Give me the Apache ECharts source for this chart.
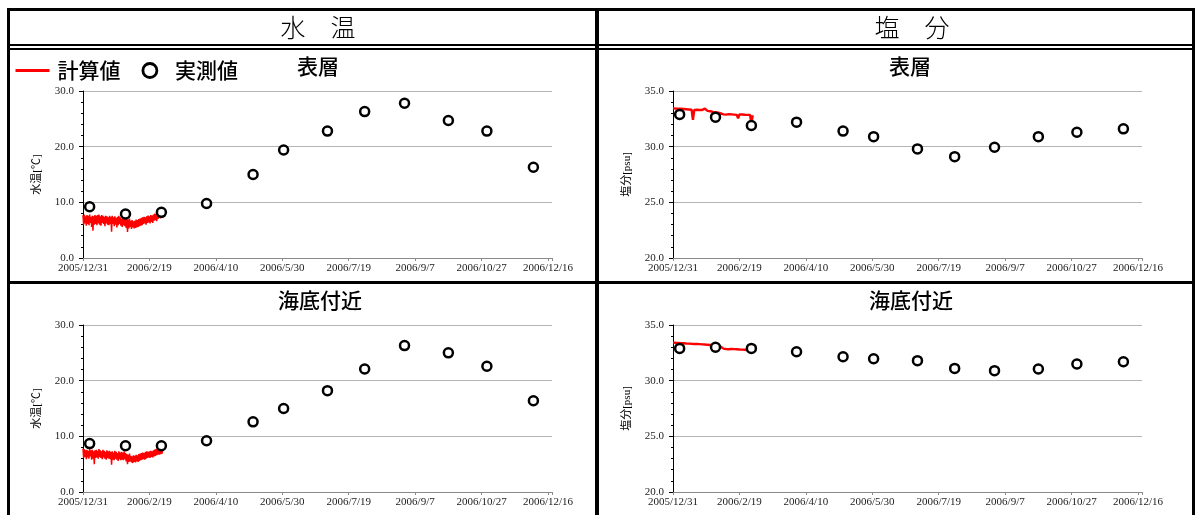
<!DOCTYPE html>
<html><head><meta charset="utf-8">
<script src="https://cdn.jsdelivr.net/npm/echarts@6/dist/echarts.min.js"></script>
<style>html,body{margin:0;padding:0;background:#fff}#c{width:1195px;height:515px}</style>
</head><body><div id="c"></div>
<script>
// ---------------- data ----------------
const axisStartDate = '2005/12/31';
const xTickLabels = ['2005/12/31','2006/2/19','2006/4/10','2006/5/30','2006/7/19','2006/9/7','2006/10/27','2006/12/16'];
const tempTickLabels = ['0.0','10.0','20.0','30.0'];
const salTickLabels = ['20.0','25.0','30.0','35.0'];

const obsDates = ['2006/1/5','2006/2/1','2006/2/28','2006/4/3','2006/5/8','2006/5/31','2006/7/3','2006/7/31','2006/8/30','2006/10/2','2006/10/31','2006/12/5'];
const obsTempSurface = [9.2,7.9,8.2,9.8,15.0,19.4,22.8,26.3,27.8,24.7,22.8,16.3];
const obsTempBottom  = [8.7,8.3,8.3,9.2,12.6,15.0,18.2,22.1,26.3,25.0,22.6,16.4];
const obsSalSurface  = [32.9,32.65,31.9,32.2,31.4,30.9,29.8,29.1,29.95,30.9,31.3,31.6];
const obsSalBottom   = [32.9,33.0,32.9,32.6,32.15,31.97,31.8,31.1,30.9,31.05,31.5,31.7];

const calcStartDate = '2005/12/31';
const calcTempStepHours = 12;
const calcSalStepHours = 24;
const calcTempSurface = [
7.7,6.0,7.8,6.2,7.5,5.8,7.7,6.1,7.6,5.9,7.8,6.3,7.4,5.6,7.6,4.9,7.5,6.0,7.7,6.1,
7.6,5.9,7.7,6.2,7.8,6.0,7.5,5.8,7.7,6.3,7.6,6.1,7.4,5.7,7.6,6.2,7.5,6.0,7.3,5.9,
7.6,6.1,7.4,4.7,7.6,6.1,7.3,5.7,7.5,6.0,7.2,5.5,7.4,5.9,7.6,6.1,7.3,5.8,7.1,5.6,
7.3,5.9,7.5,5.7,7.2,5.4,7.0,4.7,6.9,5.3,7.1,5.6,6.7,5.2,6.8,5.5,6.6,5.3,6.7,5.4,
6.9,5.5,6.8,5.6,7.0,5.7,7.1,5.8,7.2,5.9,7.3,6.1,7.4,6.2,7.3,6.0,7.5,6.3,7.6,6.4,
7.5,6.2,7.7,6.5,7.6,6.3,7.8,6.7,8.0,6.8,7.9,6.6,8.3,7.0,8.5,7.2,8.2,7.1,8.4,7.3,8.1
];
const calcTempBottom = [
7.8,6.1,7.7,6.3,7.5,5.9,7.6,6.2,7.4,6.0,7.7,6.4,7.5,5.8,7.6,6.0,7.3,5.0,7.5,6.1,
7.6,6.2,7.4,6.0,7.7,6.3,7.5,6.1,7.3,5.9,7.6,6.2,7.4,6.0,7.2,5.8,7.5,6.1,7.3,6.0,
7.4,5.9,7.2,4.9,7.3,5.8,7.1,5.7,7.4,6.0,7.2,5.8,7.0,5.6,7.3,5.9,7.1,5.7,7.2,5.8,
7.1,5.7,7.3,5.9,7.0,5.5,6.8,5.0,6.7,5.4,6.9,5.5,6.5,5.3,6.4,5.2,6.6,5.4,6.5,5.3,
6.7,5.5,6.6,5.4,6.8,5.6,6.9,5.7,7.0,5.8,7.1,5.9,7.0,5.8,7.2,6.0,7.3,6.1,7.2,6.2,
7.3,6.1,7.4,6.3,7.3,6.2,7.5,6.4,7.6,6.5,7.7,6.6,7.8,6.7,7.7,6.7,7.9,6.8,7.8,6.9,7.7
];
const calcSalSurface = [
33.45,33.40,33.42,33.38,33.41,33.36,33.40,33.35,33.38,33.33,33.36,33.30,33.34,33.28,33.32,32.40,33.30,33.27,33.31,33.25,
33.29,33.26,33.30,33.35,33.42,33.28,33.22,33.25,33.18,33.20,33.12,33.16,33.10,33.14,33.05,33.08,32.98,33.02,32.90,32.96,
32.88,32.95,32.92,32.98,32.90,32.94,32.88,32.92,32.86,32.55,32.90,32.85,32.89,32.83,32.87,32.82,32.86,32.80,32.84,32.10,32.82
];
const calcSalBottom = [
33.42,33.38,33.40,33.36,33.39,33.35,33.37,33.33,33.36,33.32,33.34,33.30,33.33,33.28,33.31,33.27,33.30,33.26,33.29,33.24,
33.28,33.22,33.26,33.20,33.25,33.18,33.22,33.15,33.20,33.12,33.16,33.08,33.12,33.04,33.08,33.00,33.05,32.95,32.88,32.92,
32.84,32.90,32.82,32.88,32.85,32.90,32.83,32.88,32.82,32.87,32.80,32.86,32.79,32.85,32.78,32.84,32.76,32.82,32.70,32.55,32.75
];

// ---------------- helpers ----------------
function dayOf(s){
  const p = s.split('/').map(Number);
  const q = axisStartDate.split('/').map(Number);
  return (Date.UTC(p[0],p[1]-1,p[2]) - Date.UTC(q[0],q[1]-1,q[2]))/86400000;
}
const calcStartDay = dayOf(calcStartDate);
function calcData(arr, stepH){ return arr.map((v,i)=>[calcStartDay + i*stepH/24, v]); }
function obsData(arr){ return arr.map((v,i)=>[dayOf(obsDates[i]), v]); }

const SERIF = "'Liberation Serif','Times New Roman',serif";
const CJK = "'Noto Sans CJK JP','Noto Sans',sans-serif";
const X_INTERVAL = 50, X_MAX = 353;

const grids = [
  {left:83, top:91, width:469, height:167},
  {left:673, top:91, width:469, height:167},
  {left:83, top:325, width:469, height:167},
  {left:673, top:325, width:469, height:167}
];
const panels = [
  {calc:calcData(calcTempSurface,calcTempStepHours), obs:obsData(obsTempSurface), min:0, max:30, iv:10, labels:tempTickLabels, name:'水温[℃]', lw:1.5},
  {calc:calcData(calcSalSurface,calcSalStepHours), obs:obsData(obsSalSurface), min:20, max:35, iv:5, labels:salTickLabels, name:'塩分[psu]', lw:2.4},
  {calc:calcData(calcTempBottom,calcTempStepHours), obs:obsData(obsTempBottom), min:0, max:30, iv:10, labels:tempTickLabels, name:'水温[℃]', lw:1.5},
  {calc:calcData(calcSalBottom,calcSalStepHours), obs:obsData(obsSalBottom), min:20, max:35, iv:5, labels:salTickLabels, name:'塩分[psu]', lw:2.4}
];

const xAxis = [], yAxis = [], series = [];
panels.forEach((p,k)=>{
  xAxis.push({
    type:'value', gridIndex:k, min:0, max:X_MAX, interval:X_INTERVAL,
    axisLine:{show:true, onZero:false, lineStyle:{color:'#8a8a8a', width:1}},
    axisTick:{show:true, length:3, lineStyle:{color:'#8a8a8a'}},
    axisLabel:{fontSize:11, color:'#222', fontFamily:SERIF, margin:5,
      formatter:v=> (Math.abs(v % X_INTERVAL) < 1e-6 ? (xTickLabels[Math.round(v/X_INTERVAL)]||'') : '')},
    splitLine:{show:false}
  });
  yAxis.push({
    type:'value', gridIndex:k, min:p.min, max:p.max, interval:p.iv,
    name:p.name, nameLocation:'middle', nameGap:40, nameRotate:90,
    nameTextStyle:{fontSize:11, color:'#000', fontFamily:"'Liberation Serif','Noto Sans CJK JP'"},
    axisLine:{show:true, lineStyle:{color:'#000', width:1}},
    axisTick:{show:true, length:4, lineStyle:{color:'#000'}},
    minorTick:{show:true, splitNumber:5, length:2, lineStyle:{color:'#000'}},
    axisLabel:{fontSize:11, color:'#222', fontFamily:SERIF, margin:9,
      formatter:v=> p.labels[Math.round((v-p.min)/p.iv)] || ''},
    splitLine:{show:true, lineStyle:{color:'#b5b5b5', width:1}}
  });
  series.push({
    type:'line', name:'計算値', xAxisIndex:k, yAxisIndex:k, data:p.calc,
    symbol:'none', showSymbol:false, animation:false, silent:true, z:2,
    lineStyle:{color:'#ff0000', width:p.lw}, itemStyle:{color:'#ff0000'}
  });
  series.push({
    type:'scatter', name:'実測値', xAxisIndex:k, yAxisIndex:k, data:p.obs,
    symbol:'circle', symbolSize:9, animation:false, z:3,
    itemStyle:{color:'#ffffff', borderColor:'#000000', borderWidth:2.5, opacity:1}
  });
});

function bar(x,y,w,h){ return {type:'rect', shape:{x:x,y:y,width:w,height:h}, style:{fill:'#000'}, silent:true, z:10}; }
function label(t,x,y,size,weight){
  return {type:'text', x:x, y:y, silent:true, z:10,
    style:{text:t, fill:'#000', fontSize:size, fontFamily:CJK, fontWeight:weight||'normal',
      align:'center', verticalAlign:'middle', textAlign:'center', textVerticalAlign:'middle'}};
}

const graphic = [
  bar(7,8,1188,3),      // top
  bar(7,8,3,507),       // left
  bar(1192,8,3,507),    // right
  bar(595,8,4,507),     // middle
  bar(7,44,1188,2),     // header bottom
  bar(7,48,1188,2),     // body top
  bar(7,281,1188,3),    // row divider
  label('水　温',318,27,25,300),
  label('塩　分',912,27,25,300),
  label('表層',318,66,21,500),
  label('表層',910,66,21,500),
  label('海底付近',320,300,21,500),
  label('海底付近',911,300,21,500)
];

const chart = echarts.init(document.getElementById('c'), null, {renderer:'canvas'});
chart.setOption({
  animation:false,
  backgroundColor:'#ffffff',
  grid:grids,
  xAxis:xAxis, yAxis:yAxis, series:series,
  legend:{
    left:9, top:55, itemWidth:34, itemHeight:14, itemGap:21, selectedMode:false,
    textStyle:{fontSize:21, color:'#000', fontFamily:CJK, fontWeight:500, padding:[0,0,0,3]},
    lineStyle:{width:3},
    data:[
      {name:'計算値', itemStyle:{color:'rgba(0,0,0,0)', borderWidth:0, borderColor:'rgba(0,0,0,0)'}},
      {name:'実測値', itemStyle:{color:'#fff', borderColor:'#000', borderWidth:2.8}}
    ]
  },
  graphic:graphic
});
</script></body></html>
